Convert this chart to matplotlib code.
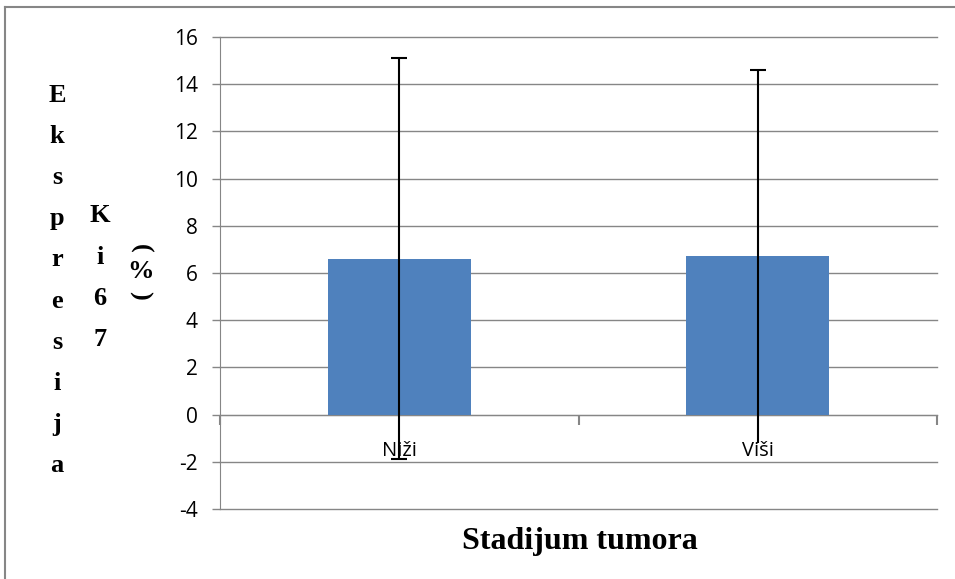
import matplotlib.pyplot as plt
from matplotlib.lines import Line2D

plt.rcParams['axes.unicode_minus'] = False

categories = ["Niži", "Viši"]
means = [6.6, 6.7]
errors = [8.5, 7.9]
yticks = list(range(-4, 18, 2))

W, H = 955, 579
fig = plt.figure(figsize=(W / 100, H / 100), dpi=100)
ax = fig.add_axes([220 / W, (H - 509) / H, (937 - 220) / W, 472 / H])

grid_col = '#868686'
x = list(range(len(categories)))
ax.bar(x, means, width=0.4, color='#4F81BD', zorder=2)
eb = ax.errorbar(x, means, yerr=errors, fmt='none', ecolor='black', elinewidth=1.5,
                 capsize=6, capthick=1.5, zorder=3)
# lower cap of the second bar is hidden behind its label in the original
eb[1][0].set_markevery([0])

ax.set_xlim(-0.5, len(categories) - 0.5)
ax.set_ylim(-4, 16)
ax.set_yticks(yticks)
ax.yaxis.grid(True, color=grid_col, linewidth=1)
for gl in ax.get_ygridlines():
    gl.set_clip_on(False)
ax.set_axisbelow(True)
for s in ['top', 'right']:
    ax.spines[s].set_visible(False)
ax.spines['left'].set_color(grid_col)
ax.spines['bottom'].set_position(('data', 0))
ax.spines['bottom'].set_color(grid_col)
ax.spines['bottom'].set_zorder(1)
ax.set_xticks([-0.5, 0.5, 1.5])
ax.set_xticklabels([])
ax.tick_params(axis='x', direction='out', length=7, color=grid_col, width=1.5)
ax.tick_params(axis='y', direction='out', length=6, color=grid_col, width=1, pad=10,
               labelsize=15)
for lab in ax.get_yticklabels():
    lab.set_fontfamily('Open Sans')

for i, c in enumerate(categories):
    ax.text(i, -1.55, c, ha='center', va='center', fontsize=14.5, family='Open Sans', zorder=4)

# axis titles
fig.text((463 + 697) / 2 / W, 1 - 542 / H, "Stadijum tumora", ha='center', va='center',
         fontsize=23, fontweight='bold', family='Liberation Serif')

serif = dict(fontsize=19, fontweight='bold', family='Liberation Serif', ha='center', va='center')
for j, ch in enumerate("Ekspresija"):
    fig.text(57 / W, 1 - (95 + j * 41.2) / H, ch, **serif)
for j, ch in enumerate("Ki67"):
    fig.text(100 / W, 1 - (216 + j * 41.2) / H, ch, **serif)
fig.text(140 / W, 1 - 248 / H, "(", rotation=-90, **serif)
fig.text(140 / W, 1 - 272 / H, "%", **serif)
fig.text(140 / W, 1 - 295 / H, ")", rotation=-90, **serif)

# chart border (left and top edges visible)
fig.add_artist(Line2D([5 / W, 5 / W], [0, 1 - 7 / H], transform=fig.transFigure,
                      color=grid_col, linewidth=1.5))
fig.add_artist(Line2D([5 / W, 1], [1 - 7 / H, 1 - 7 / H], transform=fig.transFigure,
                      color=grid_col, linewidth=1.5))

fig.savefig("out.png", dpi=100)
